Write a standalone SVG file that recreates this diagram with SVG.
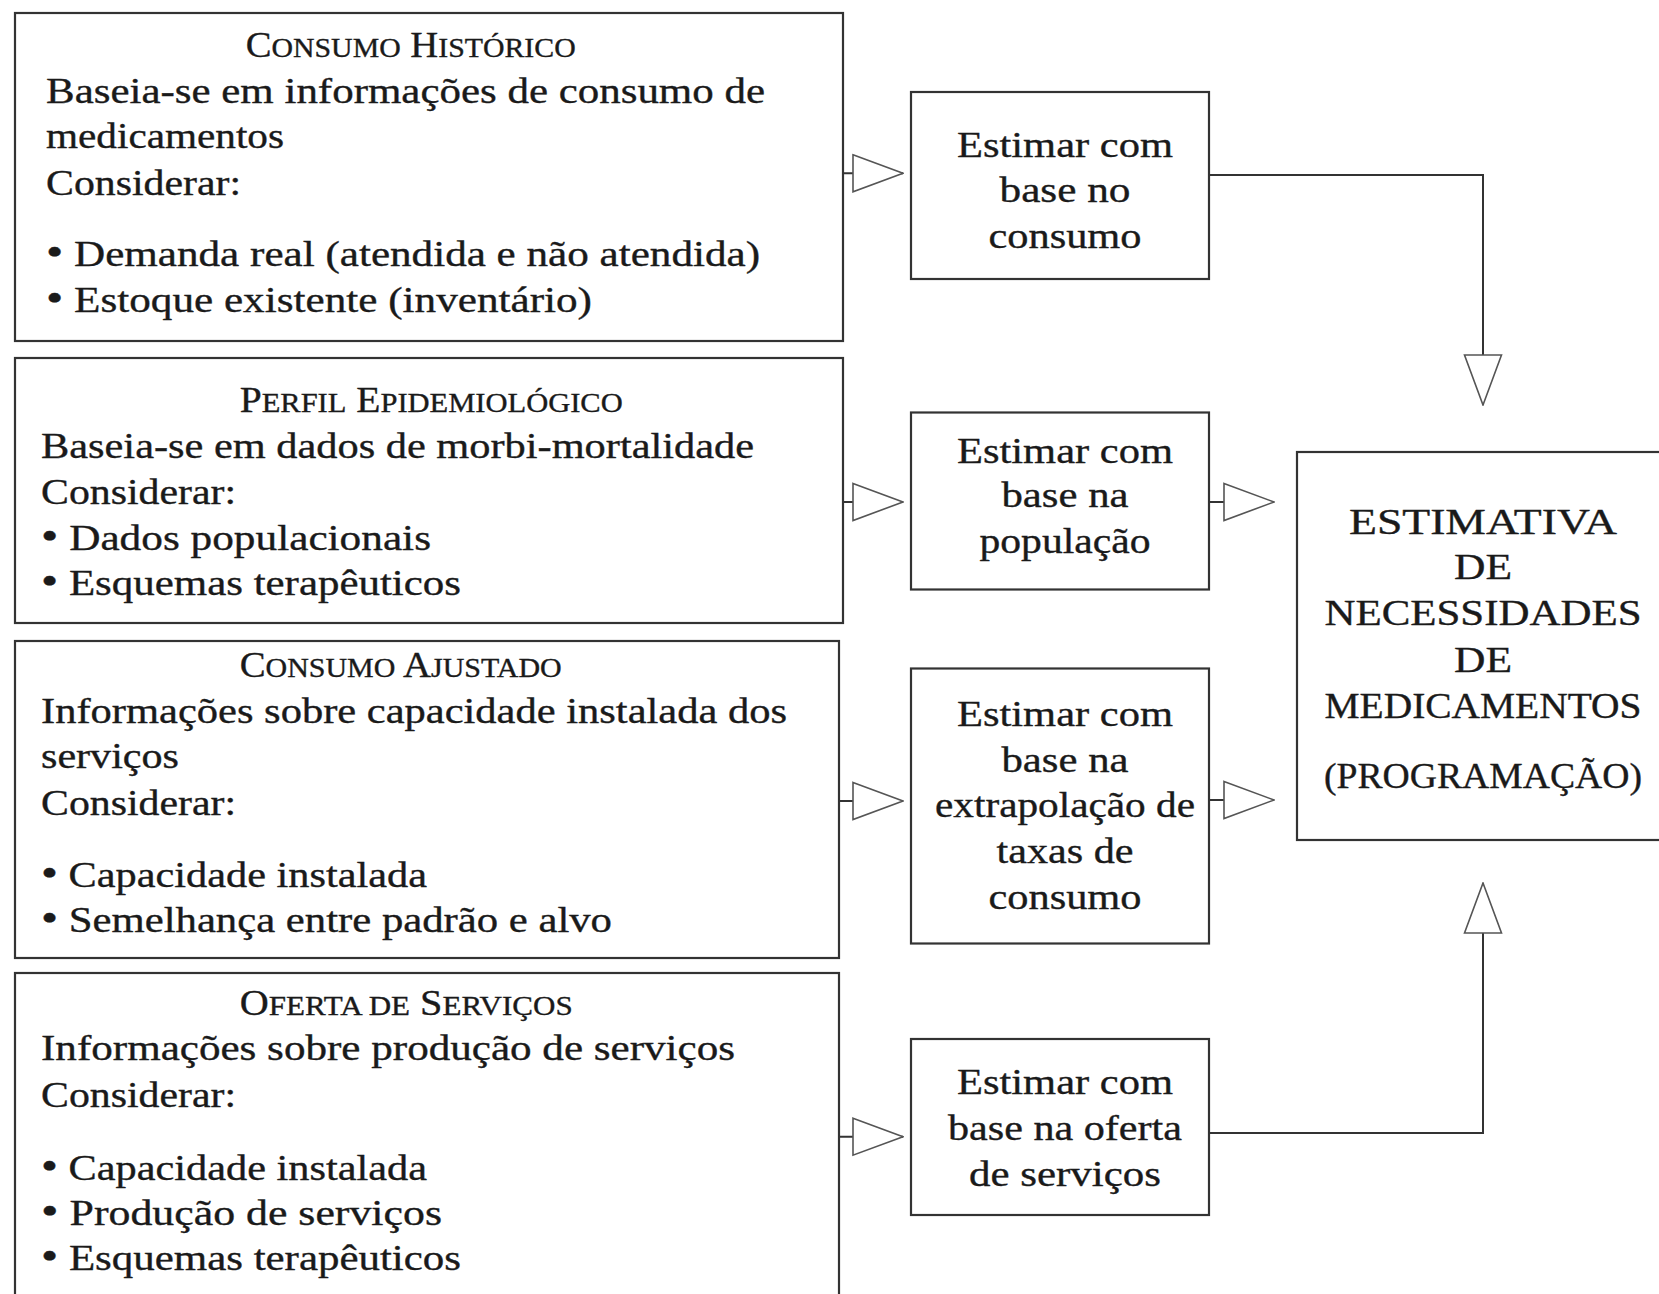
<svg xmlns="http://www.w3.org/2000/svg" width="1659" height="1294" viewBox="0 0 1659 1294" font-family="Liberation Serif" font-size="35">
<defs>
<style>
.box{fill:#fff;stroke:#333;stroke-width:2.2}
text{fill:#1a1a1a;stroke:#1a1a1a;stroke-width:0.35}
.sc{font-size:27px}
.b{font-size:40px}
.m{text-anchor:middle}
.conn{fill:none;stroke:#333;stroke-width:2}
</style>
<marker id="tri" viewBox="0 0 52 40" refX="51" refY="20" markerWidth="52" markerHeight="40" markerUnits="userSpaceOnUse" orient="auto">
<path d="M1,1.5 L51,20 L1,38.5 Z" fill="#fff" stroke="#555" stroke-width="1.6"/>
</marker>
</defs>
<rect width="1659" height="1294" fill="#fff"/>

<g id="consumo-historico">
<rect class="box" x="15" y="13" width="828" height="328"/>
<text x="245.7" y="57" textLength="330" lengthAdjust="spacingAndGlyphs">C<tspan class="sc">ONSUMO</tspan> H<tspan class="sc">ISTÓRICO</tspan></text>
<text x="46" y="103" textLength="719" lengthAdjust="spacingAndGlyphs">Baseia-se em informações de consumo de</text>
<text x="46" y="148" textLength="238" lengthAdjust="spacingAndGlyphs">medicamentos</text>
<text x="46" y="195" textLength="195" lengthAdjust="spacingAndGlyphs">Considerar:</text>
<text x="46" y="266" textLength="714" lengthAdjust="spacingAndGlyphs"><tspan class="b">•</tspan> Demanda real (atendida e não atendida)</text>
<text x="46" y="312" textLength="546" lengthAdjust="spacingAndGlyphs"><tspan class="b">•</tspan> Estoque existente (inventário)</text>
</g>

<g id="perfil-epidemiologico">
<rect class="box" x="15" y="358" width="828" height="265"/>
<text x="239.7" y="412" textLength="383" lengthAdjust="spacingAndGlyphs">P<tspan class="sc">ERFIL</tspan> E<tspan class="sc">PIDEMIOLÓGICO</tspan></text>
<text x="41" y="458" textLength="713" lengthAdjust="spacingAndGlyphs">Baseia-se em dados de morbi-mortalidade</text>
<text x="41" y="504" textLength="195" lengthAdjust="spacingAndGlyphs">Considerar:</text>
<text x="41" y="550" textLength="390" lengthAdjust="spacingAndGlyphs"><tspan class="b">•</tspan> Dados populacionais</text>
<text x="41" y="595" textLength="420" lengthAdjust="spacingAndGlyphs"><tspan class="b">•</tspan> Esquemas terapêuticos</text>
</g>

<g id="consumo-ajustado">
<rect class="box" x="15" y="641" width="824" height="317"/>
<text x="239.7" y="677" textLength="322" lengthAdjust="spacingAndGlyphs">C<tspan class="sc">ONSUMO</tspan> A<tspan class="sc">JUSTADO</tspan></text>
<text x="41" y="723" textLength="746" lengthAdjust="spacingAndGlyphs">Informações sobre capacidade instalada dos</text>
<text x="41" y="768" textLength="138" lengthAdjust="spacingAndGlyphs">serviços</text>
<text x="41" y="815" textLength="195" lengthAdjust="spacingAndGlyphs">Considerar:</text>
<text x="41" y="887" textLength="386" lengthAdjust="spacingAndGlyphs"><tspan class="b">•</tspan> Capacidade instalada</text>
<text x="41" y="932" textLength="571" lengthAdjust="spacingAndGlyphs"><tspan class="b">•</tspan> Semelhança entre padrão e alvo</text>
</g>

<g id="oferta-servicos">
<rect class="box" x="15" y="973" width="824" height="340"/>
<text x="239.7" y="1015" textLength="333" lengthAdjust="spacingAndGlyphs">O<tspan class="sc">FERTA DE</tspan> S<tspan class="sc">ERVIÇOS</tspan></text>
<text x="41" y="1060" textLength="694" lengthAdjust="spacingAndGlyphs">Informações sobre produção de serviços</text>
<text x="41" y="1107" textLength="195" lengthAdjust="spacingAndGlyphs">Considerar:</text>
<text x="41" y="1180" textLength="386" lengthAdjust="spacingAndGlyphs"><tspan class="b">•</tspan> Capacidade instalada</text>
<text x="41" y="1225" textLength="401" lengthAdjust="spacingAndGlyphs"><tspan class="b">•</tspan> Produção de serviços</text>
<text x="41" y="1270" textLength="420" lengthAdjust="spacingAndGlyphs"><tspan class="b">•</tspan> Esquemas terapêuticos</text>
</g>

<g id="estimar-consumo">
<rect class="box" x="911" y="92" width="298" height="187"/>
<text class="m" x="1065" y="157" textLength="216" lengthAdjust="spacingAndGlyphs">Estimar com</text>
<text class="m" x="1065" y="202" textLength="131" lengthAdjust="spacingAndGlyphs">base no</text>
<text class="m" x="1065" y="248" textLength="153" lengthAdjust="spacingAndGlyphs">consumo</text>
</g>

<g id="estimar-populacao">
<rect class="box" x="911" y="412.5" width="298" height="177"/>
<text class="m" x="1065" y="463" textLength="216" lengthAdjust="spacingAndGlyphs">Estimar com</text>
<text class="m" x="1065" y="507" textLength="127" lengthAdjust="spacingAndGlyphs">base na</text>
<text class="m" x="1065" y="553" textLength="171" lengthAdjust="spacingAndGlyphs">população</text>
</g>

<g id="estimar-extrapolacao">
<rect class="box" x="911" y="668.5" width="298" height="275"/>
<text class="m" x="1065" y="726" textLength="216" lengthAdjust="spacingAndGlyphs">Estimar com</text>
<text class="m" x="1065" y="771.5" textLength="127" lengthAdjust="spacingAndGlyphs">base na</text>
<text class="m" x="1065" y="817" textLength="260" lengthAdjust="spacingAndGlyphs">extrapolação de</text>
<text class="m" x="1065" y="862.5" textLength="137" lengthAdjust="spacingAndGlyphs">taxas de</text>
<text class="m" x="1065" y="909" textLength="153" lengthAdjust="spacingAndGlyphs">consumo</text>
</g>

<g id="estimar-oferta">
<rect class="box" x="911" y="1039" width="298" height="176"/>
<text class="m" x="1065" y="1094" textLength="216" lengthAdjust="spacingAndGlyphs">Estimar com</text>
<text class="m" x="1065" y="1140" textLength="234" lengthAdjust="spacingAndGlyphs">base na oferta</text>
<text class="m" x="1065" y="1186" textLength="192" lengthAdjust="spacingAndGlyphs">de serviços</text>
</g>

<g id="estimativa">
<rect class="box" x="1297" y="452" width="400" height="388"/>
<text class="m" x="1483" y="534" textLength="268" lengthAdjust="spacingAndGlyphs">ESTIMATIVA</text>
<text class="m" x="1483" y="579" textLength="58" lengthAdjust="spacingAndGlyphs">DE</text>
<text class="m" x="1483" y="625" textLength="317" lengthAdjust="spacingAndGlyphs">NECESSIDADES</text>
<text class="m" x="1483" y="672" textLength="58" lengthAdjust="spacingAndGlyphs">DE</text>
<text class="m" x="1483" y="718" textLength="317" lengthAdjust="spacingAndGlyphs">MEDICAMENTOS</text>
<text class="m" x="1483" y="788" textLength="318" lengthAdjust="spacingAndGlyphs">(PROGRAMAÇÃO)</text>
</g>

<g id="connectors">
<path class="conn" d="M843,173.3 H903" marker-end="url(#tri)"/>
<path class="conn" d="M843,502 H903" marker-end="url(#tri)"/>
<path class="conn" d="M839,801 H903" marker-end="url(#tri)"/>
<path class="conn" d="M839,1136.7 H903" marker-end="url(#tri)"/>
<path class="conn" d="M1209,502 H1274" marker-end="url(#tri)"/>
<path class="conn" d="M1209,800 H1274" marker-end="url(#tri)"/>
<path class="conn" d="M1209,175 H1483 V405" marker-end="url(#tri)"/>
<path class="conn" d="M1209,1133 H1483 V883" marker-end="url(#tri)"/>
</g>
</svg>
